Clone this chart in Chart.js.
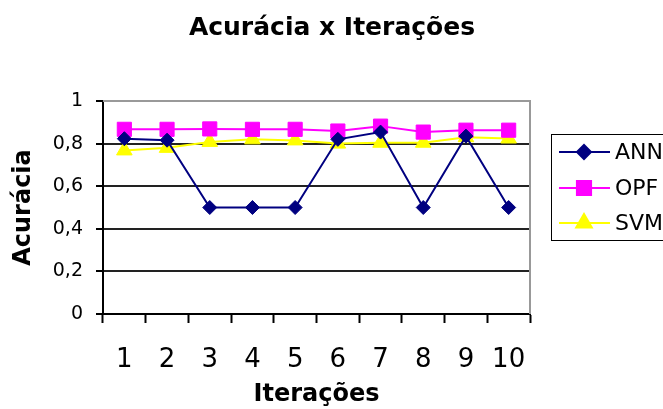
<!DOCTYPE html>
<html>
<head>
<meta charset="utf-8">
<script src="https://cdn.jsdelivr.net/npm/chart.js@4/dist/chart.umd.min.js"></script>
<style>
    html, body { margin: 0; padding: 0; background: #fff; }
    #wrap { width: 663px; height: 409px; }
</style>
</head>
<body>
<div id="wrap"><canvas id="chart" width="663" height="409"></canvas></div>
<script>
// Chart data
const iteracoes = ["1", "2", "3", "4", "5", "6", "7", "8", "9", "10"];
const annValues = [0.823, 0.816, 0.5, 0.5, 0.5, 0.82, 0.854, 0.5, 0.835, 0.5];
const opfValues = [0.867, 0.867, 0.869, 0.867, 0.867, 0.859, 0.882, 0.854, 0.863, 0.863];
const svmValues = [0.768, 0.78, 0.808, 0.82, 0.815, 0.80, 0.804, 0.804, 0.83, 0.824];
const yTickLabels = ["0", "0,2", "0,4", "0,6", "0,8", "1"];
const chartTitle = "Acurácia x Iterações";

const FONT = "'DejaVu Sans', sans-serif";

// Gray frame on top and right of the plot area
const plotFrame = {
    id: "plotFrame",
    beforeDatasetsDraw(chart) {
        const { ctx, chartArea: a } = chart;
        ctx.save();
        ctx.strokeStyle = "#999999";
        ctx.lineWidth = 2;
        ctx.beginPath();
        ctx.moveTo(a.left, a.top);
        ctx.lineTo(a.right, a.top);
        ctx.lineTo(a.right, a.bottom);
        ctx.stroke();
        ctx.restore();
    }
};

// Title centred over the whole picture (the built-in one is squeezed by the right padding)
const pageTitle = {
    id: "pageTitle",
    afterDraw(chart) {
        const ctx = chart.ctx;
        ctx.save();
        ctx.fillStyle = "#000";
        ctx.font = "bold 25px " + FONT;
        ctx.textAlign = "center";
        ctx.textBaseline = "middle";
        ctx.fillText(chartTitle, 332, 28);
        ctx.restore();
    }
};

// Boxed legend on the right, like the spreadsheet one
const boxLegend = {
    id: "boxLegend",
    afterDraw(chart) {
        const ctx = chart.ctx;
        ctx.save();
        ctx.strokeStyle = "#000";
        ctx.lineWidth = 1;
        ctx.strokeRect(551.5, 134.5, 140, 106);
        const rows = [152, 188, 223];
        chart.data.datasets.forEach((ds, i) => {
            const y = rows[i];
            ctx.strokeStyle = ds.borderColor;
            ctx.lineWidth = 2;
            ctx.beginPath();
            ctx.moveTo(559, y);
            ctx.lineTo(610, y);
            ctx.stroke();
            ctx.fillStyle = ds.backgroundColor;
            ctx.strokeStyle = ds.borderColor;
            Chart.helpers.drawPoint(ctx, {
                pointStyle: ds.pointStyle,
                radius: ds.pointRadius,
                borderWidth: 1,
                rotation: 0
            }, 584, y);
            ctx.fillStyle = "#000";
            ctx.font = "22px " + FONT;
            ctx.textBaseline = "middle";
            ctx.textAlign = "left";
            ctx.fillText(ds.label, 615, y + 1);
        });
        ctx.restore();
    }
};

new Chart(document.getElementById("chart"), {
    type: "line",
    data: {
        labels: iteracoes,
        datasets: [
            {
                label: "ANN",
                data: annValues,
                borderColor: "#000080",
                backgroundColor: "#000080",
                borderWidth: 2,
                pointStyle: "rectRot",
                pointRadius: 7,
                pointBorderWidth: 1
            },
            {
                label: "OPF",
                data: opfValues,
                borderColor: "#FF00FF",
                backgroundColor: "#FF00FF",
                borderWidth: 2,
                pointStyle: "rect",
                pointRadius: 10,
                pointBorderWidth: 1
            },
            {
                label: "SVM",
                data: svmValues,
                borderColor: "#FFFF00",
                backgroundColor: "#FFFF00",
                borderWidth: 2,
                pointStyle: "triangle",
                pointRadius: 9,
                pointBorderWidth: 1
            }
        ]
    },
    options: {
        responsive: false,
        animation: false,
        layout: { padding: { left: 0, right: 133, top: 101, bottom: 0 } },
        plugins: {
            legend: { display: false },
            tooltip: { enabled: false },
            title: { display: false }
        },
        scales: {
            x: {
                offset: true,
                afterFit(scale) { scale.height = 95; },
                grid: {
                    offset: true,
                    drawOnChartArea: false,
                    drawTicks: true,
                    tickLength: 9,
                    tickColor: "#000",
                    tickWidth: 2
                },
                border: { color: "#000", width: 2 },
                ticks: {
                    color: "#000",
                    padding: 22,
                    maxRotation: 0,
                    font: { family: FONT, size: 26 }
                },
                title: {
                    display: true,
                    text: "Iterações",
                    color: "#000",
                    font: { family: FONT, size: 24, weight: "bold", lineHeight: 1.2 },
                    padding: { top: 0, bottom: 0 }
                }
            },
            y: {
                min: 0,
                max: 1,
                afterFit(scale) { scale.width = 103; },
                grid: {
                    color: (c) => (c.tick && c.tick.value === 1 ? "rgba(0,0,0,0)" : "#222"),
                    lineWidth: 2,
                    tickLength: 7,
                    tickColor: "#000",
                    tickWidth: 2
                },
                border: { color: "#000", width: 2 },
                ticks: {
                    stepSize: 0.2,
                    color: "#000",
                    padding: 13,
                    font: { family: FONT, size: 19 },
                    callback: (value, index) => yTickLabels[index]
                },
                title: {
                    display: true,
                    text: "Acurácia",
                    color: "#000",
                    font: { family: FONT, size: 24, weight: "bold", lineHeight: 1.2 },
                    padding: { top: 9, bottom: 0 }
                }
            }
        }
    },
    plugins: [plotFrame, pageTitle, boxLegend]
});
</script>
</body>
</html>
